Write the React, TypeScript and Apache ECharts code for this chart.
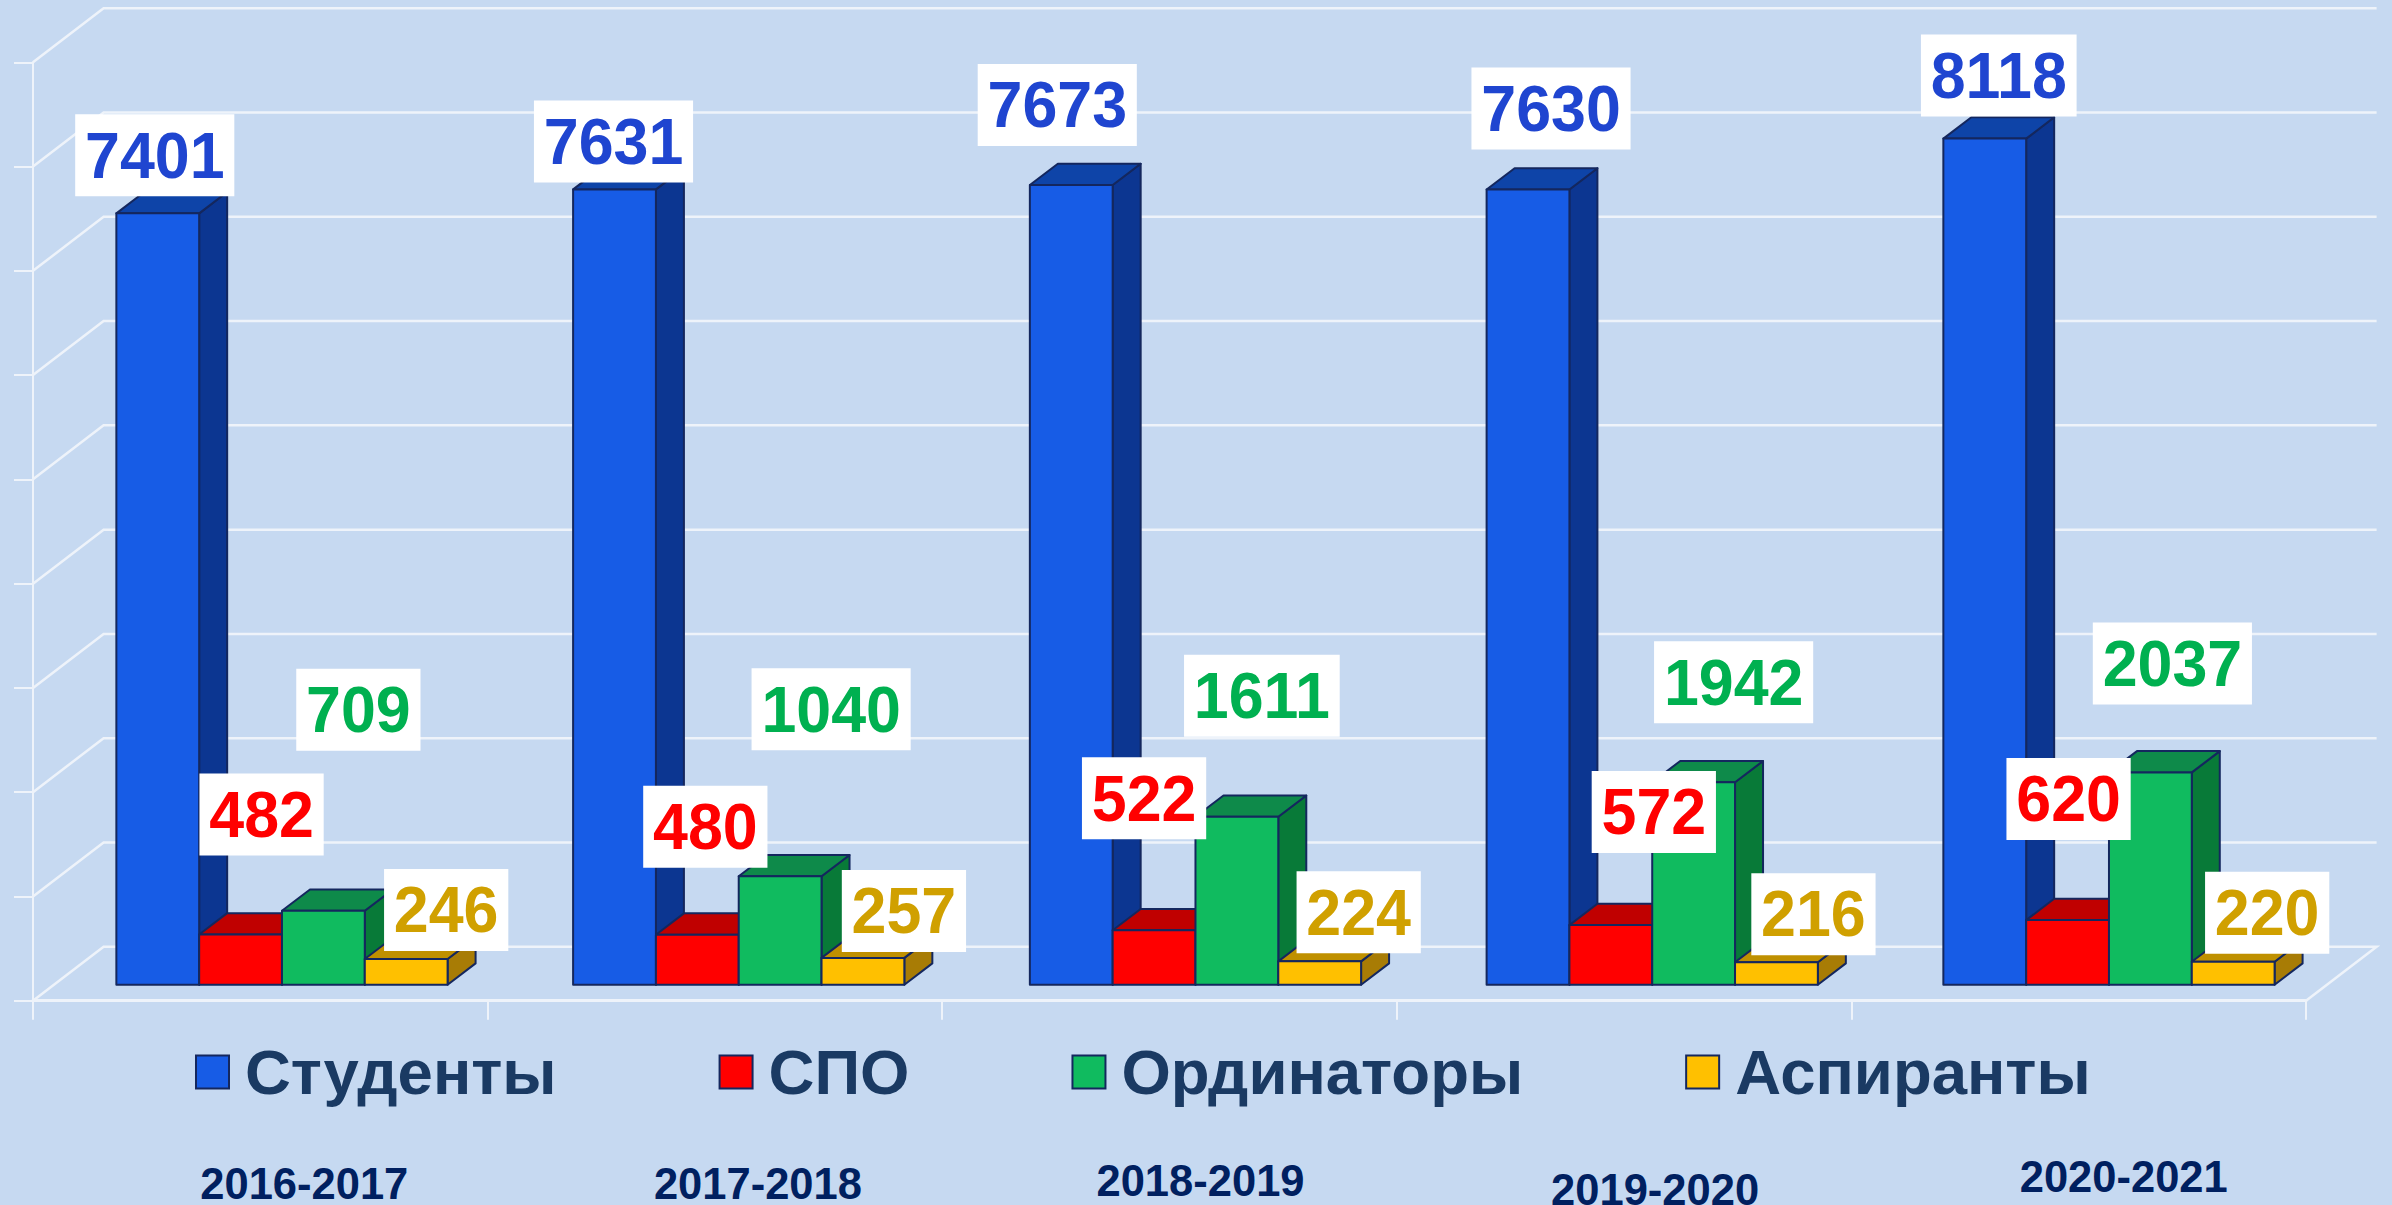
import React, { useEffect, useRef } from "react";
import * as echarts from "echarts";

const periods = ["2016-2017", "2017-2018", "2018-2019", "2019-2020", "2020-2021"];
const students = [7401, 7631, 7673, 7630, 8118];
const spo = [482, 480, 522, 572, 620];
const residents = [709, 1040, 1611, 1942, 2037];
const postgrads = [246, 257, 224, 216, 220];
const wallTicks = [0, 1000, 2000, 3000, 4000, 5000, 6000, 7000, 8000, 9000];

const FONT = '"Liberation Sans", Arial, sans-serif';
const BG = "#C6D9F1";
const GRID_LINE = "#EEF3FA";
const EDGE = "#14275E";
const DEPTH_X = 28;
const DEPTH_Y = 21.3;
const WALL_X = 70.6;
const WALL_Y = 54;

// label offsets from the front-top centre of each bar (px)
const labelOffsets = {
  students: { dx: [-3, -1, -14, 23, 14], dy: [-58, -48, -80, -81, -63] },
  spo: { dx: [21, 8, -10, 43, 1], dy: [-120, -108, -132, -113, -121] },
  residents: { dx: [35, 51, 25, 40, 22], dy: [-201, -167, -121, -100, -109] },
  postgrads: { dx: [40, 41, 39, 37, 34], dy: [-49, -47, -49, -48, -49] },
};
// period caption offsets from the category centre (px)
const periodDx = [44, 43, 31, 31, 45];
const periodY = [1183.5, 1183.5, 1180.5, 1189.5, 1177];

const seriesDefs = [
  { name: "Студенты", values: students, front: "#175CE6", top: "#0E44A8", side: "#0C3691", text: "#1F45D0", off: labelOffsets.students },
  { name: "СПО", values: spo, front: "#FF0000", top: "#C00000", side: "#B00000", text: "#FF0000", off: labelOffsets.spo },
  { name: "Ординаторы", values: residents, front: "#10BB5F", top: "#0E8A4A", side: "#087A38", text: "#00B050", off: labelOffsets.residents },
  { name: "Аспиранты", values: postgrads, front: "#FFC000", top: "#BF9000", side: "#A87C05", text: "#D0A000", off: labelOffsets.postgrads },
];

const barWidthOf = (api: any) => api.size([1, 0])[0] * 0.1813;

function barSeries(def: any, idx: number) {
  return {
    type: "custom",
    name: def.name,
    xAxisIndex: 1,
    yAxisIndex: 1,
    z: 3,
    itemStyle: { color: def.front, borderColor: EDGE, borderWidth: 2 },
    encode: { x: 0, y: 1 },
    data: def.values.map((v: number, i: number) => [i, v]),
    renderItem: (_p: any, api: any) => {
      const w = barWidthOf(api);
      const top = api.coord([api.value(0), api.value(1)]);
      const base = api.coord([api.value(0), 0]);
      const l = top[0] - 2 * w + idx * w;
      const r = l + w;
      const t = top[1];
      const b = base[1];
      const st = (fill: string) => ({ fill, stroke: EDGE, lineWidth: 2, lineJoin: "round" });
      return {
        type: "group",
        children: [
          {
            type: "polygon",
            shape: { points: [[r, t], [r + DEPTH_X, t - DEPTH_Y], [r + DEPTH_X, b - DEPTH_Y], [r, b]] },
            style: st(def.side),
          },
          {
            type: "polygon",
            shape: { points: [[l, t], [l + DEPTH_X, t - DEPTH_Y], [r + DEPTH_X, t - DEPTH_Y], [r, t]] },
            style: st(def.top),
          },
          { type: "rect", shape: { x: l, y: t, width: w, height: b - t }, style: st(def.front) },
        ],
      };
    },
  };
}

function labelSeries(def: any, idx: number) {
  return {
    type: "custom",
    name: def.name + " подписи",
    xAxisIndex: 1,
    yAxisIndex: 1,
    z: 10,
    encode: { x: 0, y: 1 },
    data: def.values.map((v: number, i: number) => [i, v]),
    renderItem: (_p: any, api: any) => {
      const w = barWidthOf(api);
      const i = api.value(0);
      const v = api.value(1);
      const top = api.coord([i, v]);
      const cx = top[0] - 2 * w + idx * w + w / 2;
      return {
        type: "text",
        x: cx + def.off.dx[i],
        y: top[1] + def.off.dy[i],
        scaleX: 0.98,
        style: {
          text: String(v),
          fill: def.text,
          font: `bold 64px ${FONT}`,
          align: "center",
          verticalAlign: "middle",
          backgroundColor: "#FFFFFF",
          padding: [10, 10, 8, 10],
        },
      };
    },
  };
}

const wallSeries = {
  type: "custom",
  name: "wall",
  xAxisIndex: 0,
  yAxisIndex: 0,
  z: 1,
  silent: true,
  encode: { y: 1 },
  data: wallTicks.map((v) => [0, v]),
  renderItem: (p: any, api: any) => {
    const v = api.value(1);
    const y = api.coord([0, v])[1];
    const x0 = p.coordSys.x;
    const x1 = x0 + p.coordSys.width;
    const pts = [[x0, y], [x0 + WALL_X, y - WALL_Y], [x1 + WALL_X, y - WALL_Y]];
    if (v === 0) pts.push([x1, y]);
    return {
      type: "polyline",
      shape: { points: pts },
      style: { stroke: GRID_LINE, lineWidth: 2.5, fill: "none" },
    };
  },
};

const periodSeries = {
  type: "custom",
  name: "periods",
  xAxisIndex: 0,
  yAxisIndex: 0,
  z: 5,
  silent: true,
  encode: { x: 0 },
  data: periods.map((_, i) => [i, 0]),
  renderItem: (_p: any, api: any) => {
    const i = api.value(0);
    return {
      type: "text",
      x: api.coord([i, 0])[0] + periodDx[i],
      y: periodY[i],
      style: {
        text: periods[i],
        fill: "#002060",
        font: `bold 43.5px ${FONT}`,
        align: "center",
        verticalAlign: "middle",
      },
    };
  },
};

export default function App() {
  const ref = useRef<HTMLDivElement>(null);
  useEffect(() => {
    document.body.style.margin = "0";
    document.body.style.overflow = "hidden";
    const chart = echarts.init(ref.current!, undefined, { renderer: "svg" });
    chart.setOption({
      animation: false,
      backgroundColor: BG,
      tooltip: { show: false },
      legend: {
        show: true,
        left: 195,
        top: 1040,
        padding: 0,
        orient: "horizontal",
        icon: "rect",
        itemWidth: 33,
        itemHeight: 33,
        itemGap: 162,
        selectedMode: false,
        data: seriesDefs.map((d) => ({
          name: d.name,
          icon: "rect",
          itemStyle: { color: d.front, borderColor: EDGE, borderWidth: 2 },
        })),
        textStyle: {
          color: "#1A3A63",
          fontFamily: FONT,
          fontWeight: "bold",
          fontSize: 63.5,
          padding: [0, 0, 0, 11],
        },
      },
      grid: [
        { left: 33, width: 2273, top: 62.3, height: 938.4, containLabel: false },
        { left: 53.6, width: 2283.75, top: 46.7, height: 938, containLabel: false },
      ],
      xAxis: [
        {
          type: "category",
          gridIndex: 0,
          data: periods,
          axisLine: { show: true, lineStyle: { color: GRID_LINE, width: 3 } },
          axisTick: { show: true, length: 19, lineStyle: { color: GRID_LINE, width: 2 } },
          axisLabel: { show: false },
          splitLine: { show: false },
        },
        { type: "category", gridIndex: 1, data: periods, show: false },
      ],
      yAxis: [
        {
          type: "value",
          gridIndex: 0,
          min: 0,
          max: 9000,
          interval: 1000,
          axisLine: { show: true, lineStyle: { color: GRID_LINE, width: 2 } },
          axisTick: { show: true, length: 19, lineStyle: { color: GRID_LINE, width: 2 } },
          axisLabel: { show: false },
          splitLine: { show: false },
        },
        { type: "value", gridIndex: 1, min: 0, max: 9000, interval: 1000, show: false, splitLine: { show: false } },
      ],
      series: [
        wallSeries,
        ...seriesDefs.map(barSeries),
        ...seriesDefs.map(labelSeries),
        periodSeries,
      ],
    });
    return () => chart.dispose();
  }, []);
  return <div ref={ref} style={{ width: 2392, height: 1205, background: BG }} />;
}
